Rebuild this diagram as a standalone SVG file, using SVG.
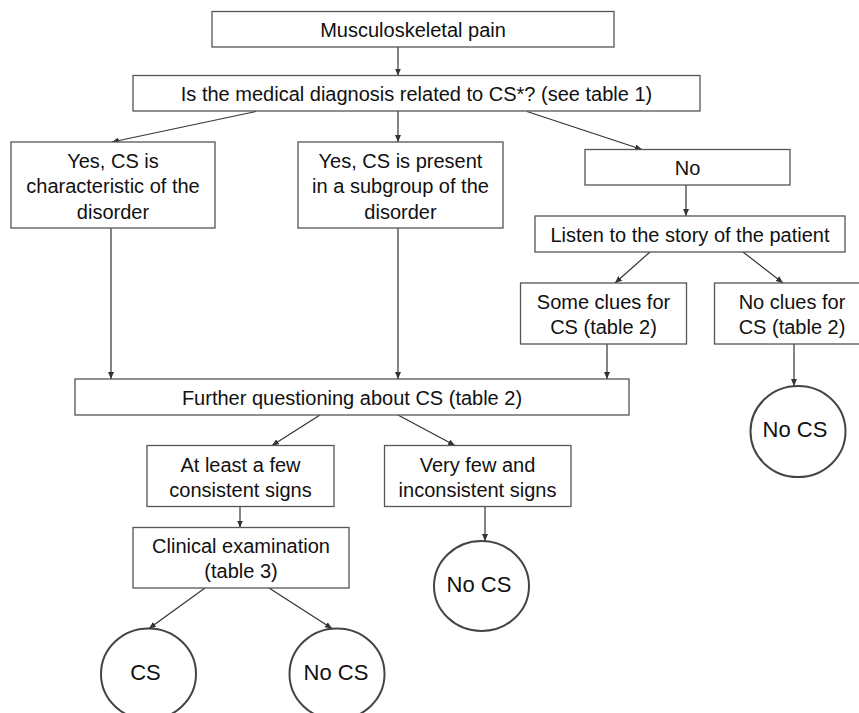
<svg xmlns="http://www.w3.org/2000/svg" width="859" height="713" viewBox="0 0 859 713">
<style>
.box{fill:#fff;stroke:#555;stroke-width:1.3}
.circ{fill:#fff;stroke:#444;stroke-width:2}
.t{font-family:"Liberation Sans",Arial,sans-serif;font-size:20px;fill:#111;text-anchor:middle}
.ct{font-size:22px}
.c line{stroke:#333;stroke-width:1.2;marker-end:url(#ah)}
</style>
<defs>
<marker id="ah" markerUnits="userSpaceOnUse" markerWidth="8" markerHeight="7" refX="7" refY="3" orient="auto">
<path d="M0,0 L7,3 L0,6 z" fill="#333"/>
</marker>
</defs>
<rect width="859" height="713" fill="#fff"/>
<g id="connectors" class="c">
<line x1="398" y1="47" x2="398" y2="75.5"/>
<line x1="256" y1="111.5" x2="112" y2="142"/>
<line x1="398" y1="111" x2="398" y2="142"/>
<line x1="527" y1="111.5" x2="642" y2="149.5"/>
<line x1="686" y1="185" x2="686" y2="216"/>
<line x1="650" y1="252" x2="615" y2="283"/>
<line x1="743" y1="252" x2="783" y2="283"/>
<line x1="111" y1="228" x2="111" y2="379"/>
<line x1="398" y1="228" x2="398" y2="379"/>
<line x1="607" y1="344" x2="607" y2="379"/>
<line x1="794" y1="344" x2="794" y2="386"/>
<line x1="320" y1="415" x2="272" y2="445.5"/>
<line x1="398" y1="415" x2="455" y2="445.5"/>
<line x1="240" y1="507" x2="240" y2="527.5"/>
<line x1="485" y1="507" x2="485" y2="541"/>
<line x1="205" y1="588" x2="149" y2="628.5"/>
<line x1="269" y1="588" x2="332" y2="628.5"/>
</g>
<g id="n1"><rect class="box" x="212" y="11.5" width="402" height="35.5"/><text class="t" x="413" y="37">Musculoskeletal pain</text></g>
<g id="n2"><rect class="box" x="133" y="75.5" width="567" height="35.5"/><text class="t" x="416.5" y="100.5">Is the medical diagnosis related to CS*? (see table 1)</text></g>
<g id="n3"><rect class="box" x="11" y="142" width="204" height="86"/><text class="t" x="113" y="167.5">Yes, CS is</text><text class="t" x="113" y="193">characteristic of the</text><text class="t" x="113" y="218.5">disorder</text></g>
<g id="n4"><rect class="box" x="298" y="142" width="205" height="86"/><text class="t" x="400.5" y="167.5">Yes, CS is present</text><text class="t" x="400.5" y="193">in a subgroup of the</text><text class="t" x="400.5" y="218.5">disorder</text></g>
<g id="n5"><rect class="box" x="585" y="149.5" width="205" height="35.5"/><text class="t" x="687.5" y="174.5">No</text></g>
<g id="n6"><rect class="box" x="535" y="216" width="310" height="36"/><text class="t" x="690" y="241.5">Listen to the story of the patient</text></g>
<g id="n7"><rect class="box" x="520.5" y="283" width="166" height="61"/><text class="t" x="603.5" y="309">Some clues for</text><text class="t" x="603.5" y="334">CS (table 2)</text></g>
<g id="n8"><rect class="box" x="714.5" y="283" width="156" height="61"/><text class="t" x="792" y="309">No clues for</text><text class="t" x="792" y="334">CS (table 2)</text></g>
<g id="n9"><ellipse class="circ" cx="798" cy="431.5" rx="47.5" ry="45.5"/><text class="t ct" x="795" y="436.5">No CS</text></g>
<g id="n10"><rect class="box" x="75" y="379" width="554" height="36"/><text class="t" x="352" y="405">Further questioning about CS (table 2)</text></g>
<g id="n11"><rect class="box" x="147" y="445.5" width="187" height="61"/><text class="t" x="240.5" y="472">At least a few</text><text class="t" x="240.5" y="497">consistent signs</text></g>
<g id="n12"><rect class="box" x="384.5" y="445.5" width="186.5" height="61"/><text class="t" x="477.5" y="472">Very few and</text><text class="t" x="477.5" y="497">inconsistent signs</text></g>
<g id="n13"><rect class="box" x="133" y="527.5" width="216" height="60.5"/><text class="t" x="241" y="553">Clinical examination</text><text class="t" x="241" y="578">(table 3)</text></g>
<g id="n14"><ellipse class="circ" cx="481.5" cy="586" rx="47.5" ry="45"/><text class="t ct" x="479" y="592">No CS</text></g>
<g id="n15"><ellipse class="circ" cx="148.5" cy="674" rx="47.5" ry="45.5"/><text class="t ct" x="145.5" y="679.5">CS</text></g>
<g id="n16"><ellipse class="circ" cx="337" cy="674" rx="47.5" ry="45.5"/><text class="t ct" x="336" y="679.5">No CS</text></g>
</svg>
